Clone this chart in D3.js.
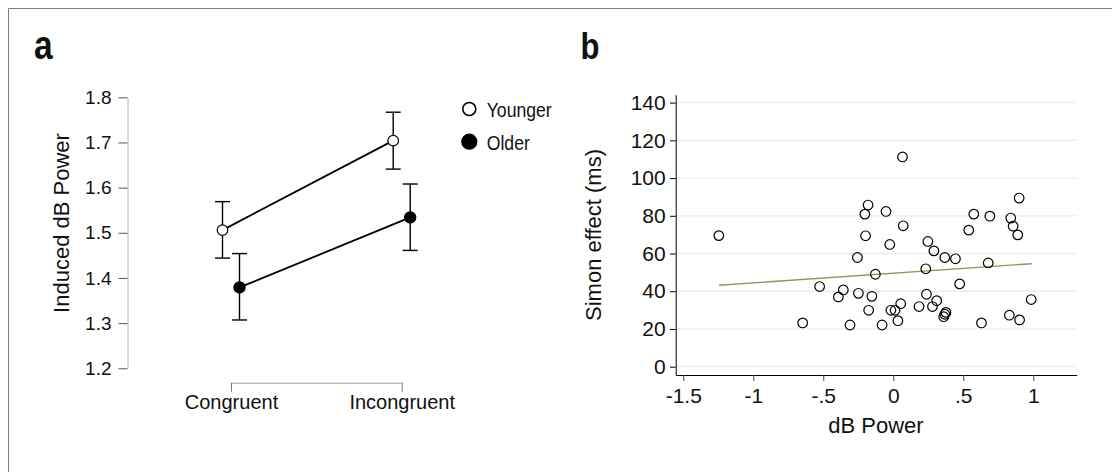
<!DOCTYPE html>
<html>
<head>
<meta charset="utf-8">
<script src="https://cdn.jsdelivr.net/npm/d3@7"></script>
<style>
  body { margin: 0; background: #fff; }
  svg { display: block; font-family: "Liberation Sans", Arial, sans-serif; }
</style>
</head>
<body>
<div id="chart"></div>
<script>
// Panel a data: induced dB power by condition and age group
var conditions = ["Congruent", "Incongruent"];
var youngerMean = [1.506, 1.704];
var youngerLow = [1.444, 1.641];
var youngerHigh = [1.569, 1.767];
var olderMean = [1.379, 1.534];
var olderLow = [1.307, 1.461];
var olderHigh = [1.454, 1.608];
var aTicks = [1.2, 1.3, 1.4, 1.5, 1.6, 1.7, 1.8];

// Panel b data: dB power vs Simon effect
var dbPower = [-1.246, -0.647, -0.526, -0.392, -0.357, -0.309, -0.256, -0.249, -0.203, -0.198,
  -0.180, -0.176, -0.153, -0.128, -0.080, -0.052, -0.025, -0.017, 0.013, 0.033,
  0.053, 0.066, 0.071, 0.184, 0.232, 0.237, 0.247, 0.280, 0.290, 0.310,
  0.360, 0.368, 0.376, 0.368, 0.444, 0.474, 0.539, 0.575, 0.630, 0.678,
  0.690, 0.829, 0.839, 0.856, 0.889, 0.899, 0.902, 0.985];
var simonEffect = [69.5, 23.2, 42.5, 37.0, 40.7, 22.1, 57.9, 38.9, 80.9, 69.4,
  85.7, 29.9, 37.3, 49.0, 22.1, 82.3, 64.8, 29.9, 29.9, 24.4,
  33.4, 111.2, 74.7, 31.9, 51.9, 38.4, 66.4, 31.9, 61.4, 35.0,
  26.5, 27.8, 28.8, 57.9, 57.2, 43.9, 72.4, 80.9, 23.2, 55.0,
  79.8, 27.3, 78.8, 74.5, 69.9, 89.4, 24.8, 35.6];
var fitX = [-1.245, 0.989];
var fitY = [43.2, 54.6];
var bYTicks = [0, 20, 40, 60, 80, 100, 120, 140];
var bXTicks = [-1.5, -1, -0.5, 0, 0.5, 1];
var bXLabels = ["-1.5", "-1", "-.5", "0", ".5", "1"];

var svg = d3.select("#chart")
  .append("svg")
  .attr("width", 1112)
  .attr("height", 472);

svg.append("rect")
  .attr("width", 1112)
  .attr("height", 472)
  .attr("fill", "#fff");

// frame (top and left edges are visible)
svg.append("path")
  .attr("d", "M8.5,472V8.5H1112")
  .attr("fill", "none")
  .attr("stroke", "#808080")
  .attr("stroke-width", 1);

// narrow text: squeeze normal font horizontally
function narrowText(x, y, size, txt, bold) {
  return svg.append("text")
    .attr("transform", `translate(${x},${y}) scale(0.84,1)`)
    .attr("font-size", size)
    .attr("font-weight", bold ? "bold" : "normal")
    .attr("fill", "#111")
    .text(txt);
}

// panel letters
narrowText(34, 58.5, 40, "a", true);
narrowText(580.5, 58.5, 37, "b", true);

// ---------- Panel a ----------
var xA = d3.scalePoint().domain(conditions).range([231, 401.7]);
var yA = d3.scaleLinear().domain([1.2, 1.8]).range([368.3, 97.3]);
var dodge = 8.5;

var yAxisA = svg.append("g")
  .attr("transform", "translate(127.5,0)")
  .call(d3.axisLeft(yA).tickValues(aTicks).tickFormat(d3.format(".1f"))
    .tickSize(9).tickSizeOuter(0).tickPadding(7));
yAxisA.select(".domain").attr("stroke", "#b8b8b8");
yAxisA.selectAll(".tick line").attr("stroke", "#555");
yAxisA.selectAll("text").attr("font-size", 19).attr("fill", "#111")
  .attr("font-family", "Liberation Sans, Arial, sans-serif");

var xAxisA = svg.append("g")
  .attr("transform", "translate(0,382.7)")
  .call(d3.axisBottom(xA).tickSize(9).tickSizeOuter(0).tickPadding(3.4));
xAxisA.select(".domain").attr("stroke", "#a0a0a0");
xAxisA.selectAll(".tick line").attr("stroke", "#777");
xAxisA.selectAll("text").attr("font-size", 20).attr("fill", "#111")
  .attr("font-family", "Liberation Sans, Arial, sans-serif");

svg.append("text")
  .attr("transform", "translate(69,223) rotate(-90)")
  .attr("text-anchor", "middle")
  .attr("font-size", 22)
  .attr("fill", "#111")
  .text("Induced dB Power");

var groups = [
  {name: "Younger", mean: youngerMean, low: youngerLow, high: youngerHigh, off: -dodge, fill: "#fff", r: 5.3},
  {name: "Older", mean: olderMean, low: olderLow, high: olderHigh, off: dodge, fill: "#000", r: 5.6}
];

groups.forEach(function(g) {
  var pts = conditions.map(function(c, i) {
    return {x: xA(c) + g.off, m: g.mean[i], lo: g.low[i], hi: g.high[i]};
  });
  var gg = svg.append("g");

  // error bars
  pts.forEach(function(p) {
    gg.append("line")
      .attr("x1", p.x).attr("x2", p.x)
      .attr("y1", yA(p.lo)).attr("y2", yA(p.hi))
      .attr("stroke", "#000").attr("stroke-width", 1.4);
    [p.lo, p.hi].forEach(function(v) {
      gg.append("line")
        .attr("x1", p.x - 7.5).attr("x2", p.x + 7.5)
        .attr("y1", yA(v)).attr("y2", yA(v))
        .attr("stroke", "#000").attr("stroke-width", 1.4);
    });
  });

  gg.append("path")
    .datum(pts)
    .attr("d", d3.line().x(d => d.x).y(d => yA(d.m)))
    .attr("fill", "none")
    .attr("stroke", "#000")
    .attr("stroke-width", 1.8);

  gg.selectAll("circle")
    .data(pts)
    .enter()
    .append("circle")
    .attr("cx", d => d.x)
    .attr("cy", d => yA(d.m))
    .attr("r", g.r)
    .attr("fill", g.fill)
    .attr("stroke", "#000")
    .attr("stroke-width", 1.2);
});

// legend
var legendY = [109, 141.7];
groups.forEach(function(g, i) {
  svg.append("circle")
    .attr("cx", 469.3).attr("cy", legendY[i])
    .attr("r", g.name === "Older" ? 7.3 : 6.5)
    .attr("fill", g.fill)
    .attr("stroke", "#000")
    .attr("stroke-width", 1.6);
  narrowText(486.7, legendY[i] + 8, 21, g.name, false);
});

// ---------- Panel b ----------
var xB = d3.scaleLinear().domain([-1.554, 1.31]).range([675.7, 1076.7]);
var yB = d3.scaleLinear().domain([-4.4, 144.2]).range([375, 94.7]);

// grid lines
svg.append("g")
  .selectAll("line")
  .data(bYTicks)
  .enter()
  .append("line")
  .attr("x1", 675.7).attr("x2", 1076.7)
  .attr("y1", d => yB(d)).attr("y2", d => yB(d))
  .attr("stroke", "#e6eff1")
  .attr("stroke-width", 1.3);

var yAxisB = svg.append("g")
  .attr("transform", "translate(675.7,0)")
  .call(d3.axisLeft(yB).tickValues(bYTicks).tickSize(5.7).tickSizeOuter(0).tickPadding(4.3));
yAxisB.selectAll("text").attr("font-size", 21).attr("fill", "#111")
  .attr("font-family", "Liberation Sans, Arial, sans-serif");

var xAxisB = svg.append("g")
  .attr("transform", "translate(0,375)")
  .call(d3.axisBottom(xB).tickValues(bXTicks).tickFormat((d, i) => bXLabels[i])
    .tickSize(6).tickSizeOuter(0).tickPadding(7.4));
xAxisB.selectAll("text").attr("font-size", 21).attr("fill", "#111")
  .attr("font-family", "Liberation Sans, Arial, sans-serif");
xAxisB.selectAll(".tick line").attr("stroke", "#444");

svg.append("text")
  .attr("x", 876).attr("y", 433)
  .attr("text-anchor", "middle")
  .attr("font-size", 22)
  .attr("fill", "#111")
  .text("dB Power");

svg.append("text")
  .attr("transform", "translate(601,235) rotate(-90)")
  .attr("text-anchor", "middle")
  .attr("font-size", 22)
  .attr("fill", "#111")
  .text("Simon effect (ms)");

// fit line
svg.append("path")
  .datum(d3.zip(fitX, fitY))
  .attr("d", d3.line().x(d => xB(d[0])).y(d => yB(d[1])))
  .attr("fill", "none")
  .attr("stroke", "#7f9d62")
  .attr("stroke-width", 1.4);

// scatter points
svg.append("g")
  .selectAll("circle")
  .data(d3.zip(dbPower, simonEffect))
  .enter()
  .append("circle")
  .attr("cx", d => xB(d[0]))
  .attr("cy", d => yB(d[1]))
  .attr("r", 4.8)
  .attr("fill", "none")
  .attr("stroke", "#000")
  .attr("stroke-width", 1.2);
</script>
</body>
</html>
